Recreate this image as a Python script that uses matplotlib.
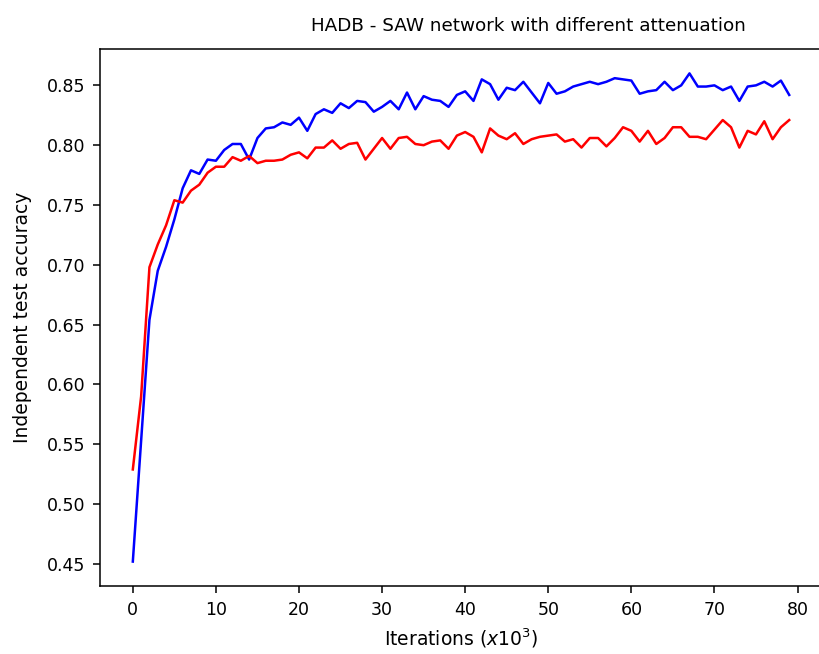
import matplotlib
matplotlib.use("Agg")
import matplotlib.pyplot as plt
import numpy as np

# accuracy per 1000 iterations
blue = [0.452, 0.553, 0.654, 0.695, 0.715, 0.738, 0.764, 0.779, 0.776, 0.788,
        0.787, 0.796, 0.801, 0.801, 0.788, 0.806, 0.814, 0.815, 0.819, 0.817,
        0.823, 0.812, 0.826, 0.830, 0.827, 0.835, 0.831, 0.837, 0.836, 0.828,
        0.832, 0.837, 0.830, 0.844, 0.830, 0.841, 0.838, 0.837, 0.832, 0.842,
        0.845, 0.837, 0.855, 0.851, 0.838, 0.848, 0.846, 0.853, 0.844, 0.835,
        0.852, 0.843, 0.845, 0.849, 0.851, 0.853, 0.851, 0.853, 0.856, 0.855,
        0.854, 0.843, 0.845, 0.846, 0.853, 0.846, 0.850, 0.860, 0.849, 0.849,
        0.850, 0.846, 0.849, 0.837, 0.849, 0.850, 0.853, 0.849, 0.854, 0.842]

red = [0.529, 0.590, 0.698, 0.717, 0.733, 0.754, 0.752, 0.762, 0.767, 0.777,
       0.782, 0.782, 0.790, 0.787, 0.791, 0.785, 0.787, 0.787, 0.788, 0.792,
       0.794, 0.789, 0.798, 0.798, 0.804, 0.797, 0.801, 0.802, 0.788, 0.797,
       0.806, 0.797, 0.806, 0.807, 0.801, 0.800, 0.803, 0.804, 0.797, 0.808,
       0.811, 0.807, 0.794, 0.814, 0.808, 0.805, 0.810, 0.801, 0.805, 0.807,
       0.808, 0.809, 0.803, 0.805, 0.798, 0.806, 0.806, 0.799, 0.806, 0.815,
       0.812, 0.803, 0.812, 0.801, 0.806, 0.815, 0.815, 0.807, 0.807, 0.805,
       0.813, 0.821, 0.815, 0.798, 0.812, 0.809, 0.820, 0.805, 0.815, 0.821]

iters = np.arange(len(blue))

fig = plt.figure(figsize=(8.19, 6.54), dpi=100)
ax = fig.add_axes([0.1221, 0.104, 0.8816, 0.8211])

ax.plot(iters, blue, 'b', linewidth=1.8)
ax.plot(iters, red, 'r', linewidth=1.8)

ax.set_title("HADB - SAW network with different attenuation", fontsize=13.2,
             x=0.594, pad=13)
ax.set_xlabel(r"Iterations ($x10^3$)", fontsize=13.5, labelpad=6)
ax.set_ylabel("Independent test accuracy", fontsize=13.5, labelpad=11)
ax.tick_params(labelsize=12.5, length=5, width=1.1, pad=5.5)
for s in ax.spines.values():
    s.set_linewidth(1.1)

fig.savefig("out.png", dpi=100)
